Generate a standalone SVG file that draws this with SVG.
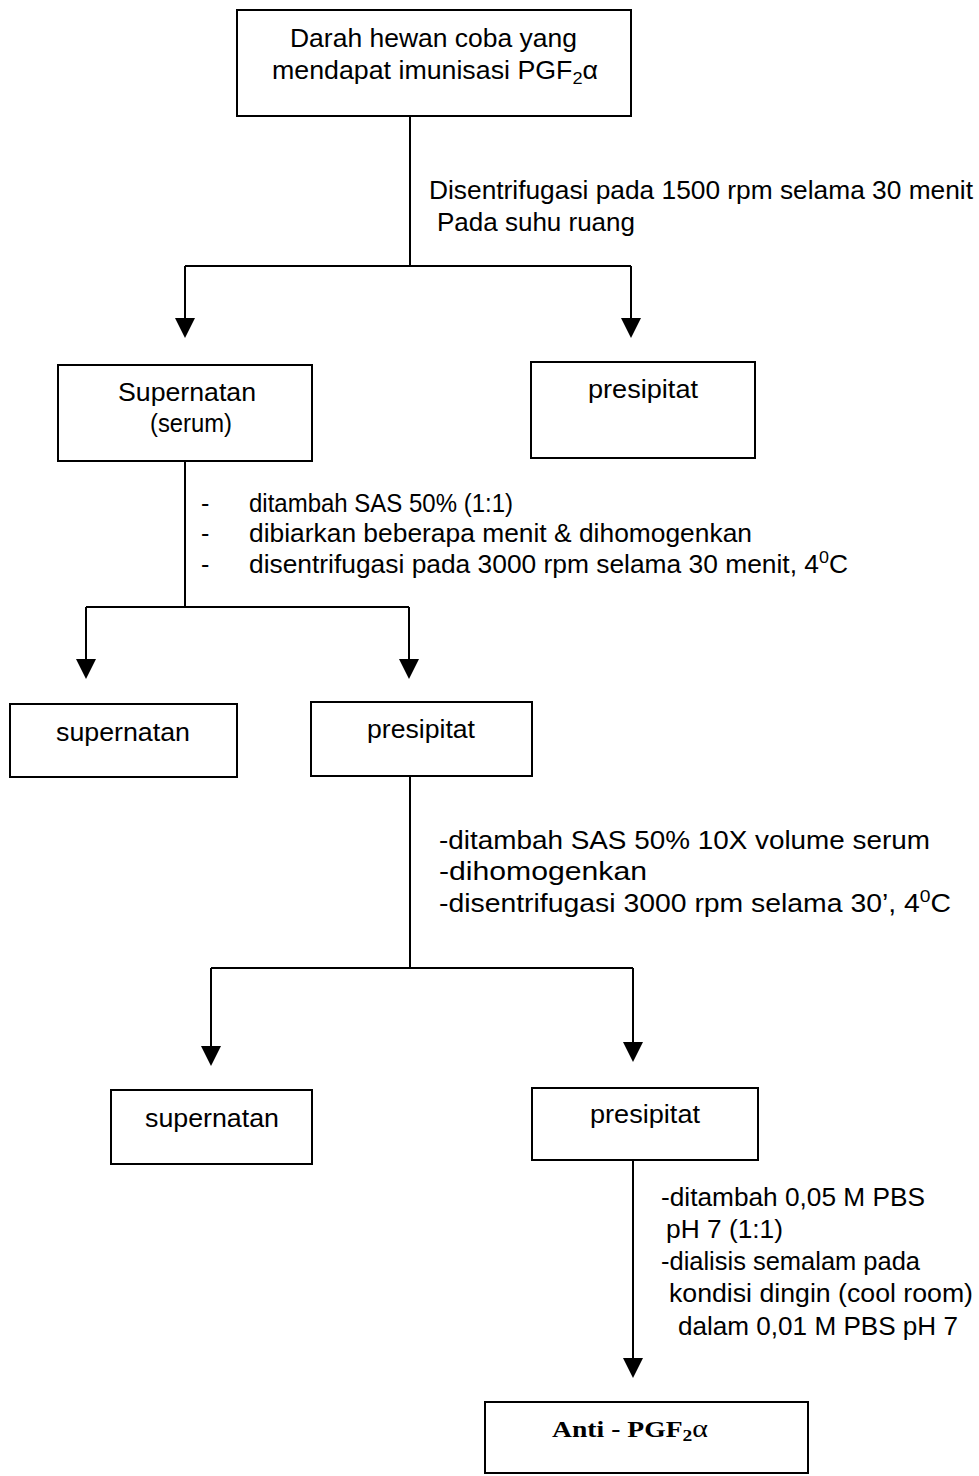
<svg xmlns="http://www.w3.org/2000/svg" width="979" height="1476" viewBox="0 0 979 1476">
<defs>
<style>
.box{fill:#fff;stroke:#000;stroke-width:2}
.ln{fill:none;stroke:#000;stroke-width:2}
.ah{fill:#000}
text{font-family:"Liberation Sans",Arial,sans-serif;font-size:25px;fill:#000}
.b{font-family:"Liberation Serif","Times New Roman",serif;font-weight:bold;font-size:24px}
.sub{font-size:17px}
</style>
</defs>
<rect width="979" height="1476" fill="#fff"/>
<g id="connectors">
<path class="ln" d="M410 116V266M185 266H631M185 266V325M631 266V325"/>
<polygon class="ah" points="175,318 195,318 185,338"/>
<polygon class="ah" points="621,318 641,318 631,338"/>
<path class="ln" d="M185 462V607M86 607H409M86 607V665M409 607V665"/>
<polygon class="ah" points="76,659 96,659 86,679"/>
<polygon class="ah" points="399,659 419,659 409,679"/>
<path class="ln" d="M410 776V968M211 968H633M211 968V1050M633 968V1046"/>
<polygon class="ah" points="201,1046 221,1046 211,1066"/>
<polygon class="ah" points="623,1042 643,1042 633,1062"/>
<path class="ln" d="M633 1160V1362"/>
<polygon class="ah" points="623,1358 643,1358 633,1378"/>
</g>
<g id="labels">
<text x="429" y="199" textLength="544" lengthAdjust="spacingAndGlyphs">Disentrifugasi pada 1500 rpm selama 30 menit</text>
<text x="437" y="231" textLength="198" lengthAdjust="spacingAndGlyphs">Pada suhu ruang</text>
<text x="201" y="512">-</text><text x="249" y="512" textLength="264" lengthAdjust="spacingAndGlyphs">ditambah SAS 50% (1:1)</text>
<text x="201" y="542">-</text><text x="249" y="542" textLength="503" lengthAdjust="spacingAndGlyphs">dibiarkan beberapa menit &amp; dihomogenkan</text>
<text x="201" y="573">-</text><text x="249" y="573" textLength="599" lengthAdjust="spacingAndGlyphs">disentrifugasi pada 3000 rpm selama 30 menit, 4<tspan class="sub" dy="-10">0</tspan><tspan dy="10">C</tspan></text>
<text x="439" y="849" textLength="491" lengthAdjust="spacingAndGlyphs">-ditambah SAS 50% 10X volume serum</text>
<text x="439" y="880" textLength="208" lengthAdjust="spacingAndGlyphs">-dihomogenkan</text>
<text x="439" y="912" textLength="512" lengthAdjust="spacingAndGlyphs">-disentrifugasi 3000 rpm selama 30’,  4<tspan class="sub" dy="-10">0</tspan><tspan dy="10">C</tspan></text>
<text x="661" y="1206" textLength="264" lengthAdjust="spacingAndGlyphs">-ditambah 0,05 M PBS</text>
<text x="666" y="1238" textLength="117" lengthAdjust="spacingAndGlyphs">pH 7 (1:1)</text>
<text x="661" y="1270" textLength="259" lengthAdjust="spacingAndGlyphs">-dialisis semalam pada</text>
<text x="669" y="1302" textLength="304" lengthAdjust="spacingAndGlyphs">kondisi dingin (cool room)</text>
<text x="678" y="1335" textLength="280" lengthAdjust="spacingAndGlyphs">dalam 0,01 M PBS pH 7</text>
</g>
<g id="n1">
<rect class="box" x="237" y="10" width="394" height="106"/>
<text x="290" y="47" textLength="287" lengthAdjust="spacingAndGlyphs">Darah hewan coba yang</text>
<text x="272" y="79" textLength="326" lengthAdjust="spacingAndGlyphs">mendapat imunisasi  PGF<tspan class="sub" dy="5">2</tspan><tspan dy="-5">α</tspan></text>
</g>
<g id="n2">
<rect class="box" x="58" y="365" width="254" height="96"/>
<text x="118" y="401" textLength="138" lengthAdjust="spacingAndGlyphs">Supernatan</text>
<text x="150" y="432" textLength="82" lengthAdjust="spacingAndGlyphs">(serum)</text>
</g>
<g id="n3">
<rect class="box" x="531" y="362" width="224" height="96"/>
<text x="588" y="398" textLength="110" lengthAdjust="spacingAndGlyphs">presipitat</text>
</g>
<g id="n4">
<rect class="box" x="10" y="704" width="227" height="73"/>
<text x="56" y="741" textLength="134" lengthAdjust="spacingAndGlyphs">supernatan</text>
</g>
<g id="n5">
<rect class="box" x="311" y="702" width="221" height="74"/>
<text x="367" y="738" textLength="108" lengthAdjust="spacingAndGlyphs">presipitat</text>
</g>
<g id="n6">
<rect class="box" x="111" y="1090" width="201" height="74"/>
<text x="145" y="1127" textLength="134" lengthAdjust="spacingAndGlyphs">supernatan</text>
</g>
<g id="n7">
<rect class="box" x="532" y="1088" width="226" height="72"/>
<text x="590" y="1123" textLength="110" lengthAdjust="spacingAndGlyphs">presipitat</text>
</g>
<g id="n8">
<rect class="box" x="485" y="1402" width="323" height="71"/>
<text class="b" x="552" y="1437" textLength="156" lengthAdjust="spacingAndGlyphs">Anti - PGF<tspan class="sub" dy="4">2</tspan><tspan dy="-4" font-weight="normal" font-size="26px">α</tspan></text>
</g>
</svg>
